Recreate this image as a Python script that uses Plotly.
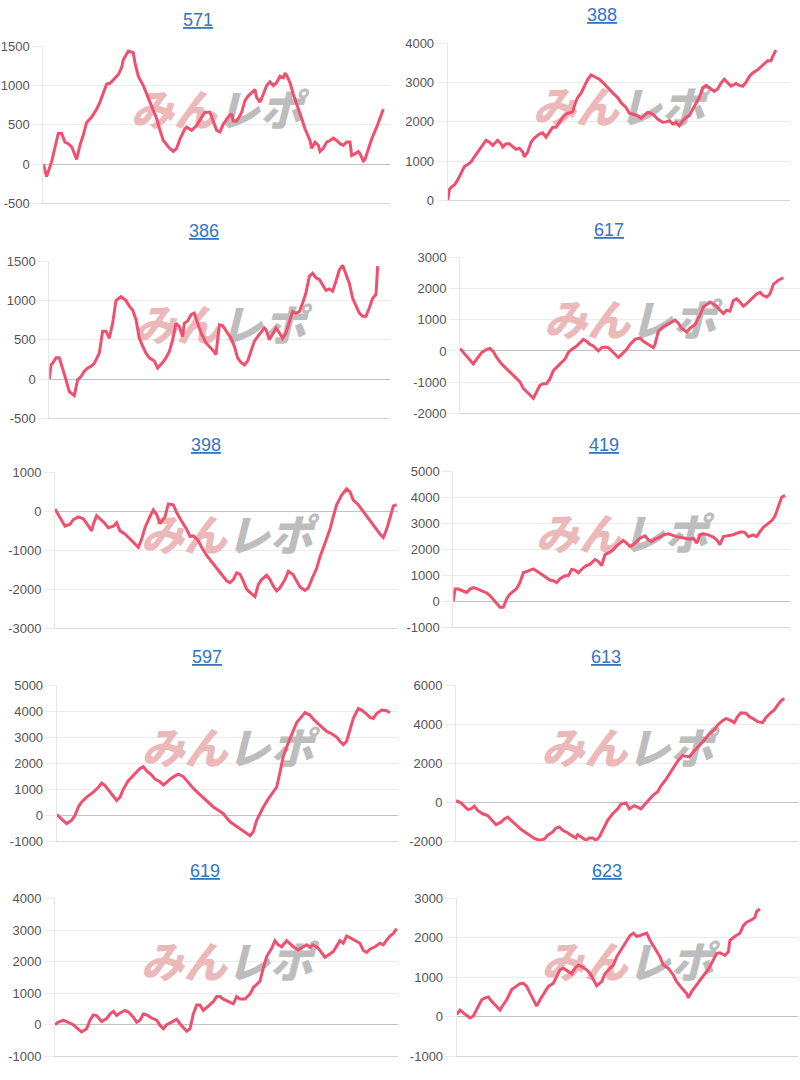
import plotly.graph_objects as go

# ---------------- data ----------------
TITLES = ["571", "388", "386", "617", "398", "419", "597", "613", "619", "623"]

X_571 = [0, 2, 5, 9, 11, 13, 15, 17, 20, 22, 24, 26, 29, 32, 34, 36, 38, 40, 43, 45,
         47, 48, 51, 54, 55, 57, 60, 62, 65, 68, 70, 72, 75, 78, 80, 82, 85, 86, 89, 92,
         95, 97, 100, 102, 104, 106, 108, 111, 113, 114, 116, 118, 119, 121, 123, 126, 127, 128, 130, 132,
         134, 136, 138, 140, 142, 144, 145, 146, 148, 150, 153, 155, 157, 160, 161, 163, 165, 166, 168, 170,
         172, 174, 176, 178, 180, 182, 184, 185, 187, 189, 190, 192, 193, 195, 197, 200, 204]
Y_571 = [0, -160, 30, 390, 390, 280, 260, 220, 60, 240, 370, 530, 600, 700, 790, 900, 1020, 1030, 1100, 1140,
         1230, 1330, 1440, 1420, 1290, 1120, 1000, 890, 740, 580, 430, 300, 220, 160, 200, 320, 450, 470, 430, 490,
         600, 660, 660, 550, 430, 410, 510, 600, 640, 550, 550, 620, 660, 810, 870, 930, 950, 850, 790, 890,
         1000, 1050, 1000, 1040, 1120, 1100, 1160, 1130, 1040, 890, 720, 580, 450, 300, 200, 280, 240, 160, 200, 280,
         300, 330, 300, 260, 240, 280, 280, 110, 130, 160, 130, 40, 60, 200, 320, 470, 700]

X_388 = [0, 1, 2, 4, 6, 8, 10, 12, 14, 16, 18, 20, 23, 25, 27, 30, 32, 33, 35, 37,
         39, 41, 43, 45, 46, 48, 50, 52, 55, 57, 59, 61, 63, 65, 67, 69, 71, 73, 75, 77,
         78, 80, 82, 84, 86, 88, 91, 93, 96, 99, 102, 104, 107, 109, 111, 114, 116, 118, 120, 122,
         124, 126, 129, 131, 133, 135, 137, 139, 141, 143, 145, 147, 149, 151, 153, 155, 157, 160, 162, 164,
         166, 168, 170, 173, 175, 177, 179, 181, 183, 186, 188, 190, 192, 194, 195, 197]
Y_388 = [0, 270, 330, 390, 520, 690, 860, 910, 980, 1110, 1230, 1360, 1530, 1480, 1400, 1530, 1440, 1360, 1440, 1440,
         1360, 1300, 1330, 1230, 1110, 1230, 1480, 1590, 1690, 1720, 1610, 1750, 1860, 1860, 1990, 2110, 2200, 2240, 2260, 2530,
         2620, 2730, 2910, 3080, 3200, 3160, 3090, 3010, 2870, 2740, 2620, 2490, 2370, 2220, 2200, 2160, 2090, 2160, 2240, 2220,
         2160, 2070, 1990, 2000, 2030, 1950, 1990, 1900, 2030, 2110, 2160, 2320, 2490, 2620, 2870, 2930, 2870, 2780, 2840, 2990,
         3090, 3010, 2910, 2980, 2930, 2910, 3010, 3160, 3250, 3330, 3400, 3480, 3560, 3560, 3670, 3830]

X_386 = [0, 1, 2, 4, 6, 8, 10, 12, 15, 17, 19, 21, 23, 25, 27, 30, 32, 34, 36, 38,
         40, 43, 46, 48, 50, 52, 54, 56, 58, 60, 63, 65, 66, 68, 70, 72, 74, 76, 78, 80,
         81, 83, 85, 87, 89, 91, 94, 96, 98, 100, 102, 104, 106, 109, 111, 113, 115, 117, 119, 121,
         123, 125, 127, 129, 130, 132, 134, 136, 138, 140, 142, 144, 146, 148, 150, 152, 154, 156, 158, 160,
         162, 164, 166, 168, 170, 172, 174, 176, 178, 180, 182, 184, 186, 188, 190, 192, 194, 196, 197]
Y_386 = [0, 180, 200, 270, 270, 140, -10, -160, -210, -10, 30, 100, 140, 160, 200, 330, 610, 610, 520, 710,
         1000, 1050, 1000, 930, 880, 760, 520, 420, 330, 270, 230, 140, 160, 210, 270, 350, 500, 710, 670, 540,
         710, 740, 820, 840, 710, 590, 460, 420, 370, 310, 690, 680, 610, 520, 420, 270, 210, 180, 230, 350,
         480, 540, 590, 650, 630, 500, 570, 650, 590, 520, 590, 740, 860, 840, 860, 970, 1100, 1310, 1350, 1290,
         1270, 1200, 1130, 1150, 1120, 1250, 1390, 1450, 1330, 1220, 1030, 930, 840, 800, 800, 910, 1030, 1080, 1440]

X_617 = [0, 2, 5, 8, 10, 13, 16, 18, 20, 22, 25, 28, 30, 33, 36, 38, 40, 42, 44, 46,
         48, 50, 52, 54, 56, 59, 61, 63, 65, 67, 70, 72, 74, 76, 78, 80, 83, 85, 87, 89,
         92, 95, 97, 100, 102, 105, 108, 110, 113, 116, 117, 119, 122, 125, 127, 129, 131, 133, 136, 138,
         141, 144, 146, 148, 150, 153, 156, 158, 160, 162, 164, 166, 168, 170, 172, 175, 178, 180, 182, 184,
         186, 188, 191, 194]
Y_617 = [80, -50, -210, -420, -260, -50, 50, 80, -20, -210, -420, -580, -680, -840, -990, -1200, -1310, -1410, -1520, -1310,
         -1100, -1050, -1050, -890, -630, -470, -370, -260, -50, 50, 160, 260, 370, 310, 210, 160, 0, 110, 130, 110,
         -50, -210, -110, 50, 210, 370, 420, 310, 210, 110, 210, 630, 780, 860, 940, 990, 890, 730, 610, 730,
         840, 1150, 1410, 1480, 1570, 1480, 1310, 1200, 1310, 1280, 1620, 1670, 1570, 1440, 1520, 1690, 1830, 1880, 1780, 1730,
         1830, 2140, 2270, 2350]

X_398 = [0, 3, 6, 9, 11, 14, 17, 19, 22, 23, 25, 27, 30, 32, 35, 37, 39, 42, 45, 48,
         50, 52, 54, 57, 59, 61, 63, 66, 68, 71, 73, 76, 79, 81, 83, 86, 88, 91, 94, 97,
         100, 103, 105, 107, 109, 111, 113, 115, 117, 120, 122, 124, 127, 129, 131, 133, 135, 138, 140, 143,
         145, 147, 150, 152, 154, 157, 159, 162, 165, 167, 169, 172, 175, 177, 179, 182, 185, 187, 189, 192,
         195, 197, 199, 201, 203, 205]
Y_398 = [60, -170, -380, -330, -210, -140, -190, -310, -500, -330, -110, -190, -310, -420, -380, -290, -500, -580, -710, -830,
         -920, -710, -420, -130, 40, -80, -310, -140, 190, 170, -30, -250, -460, -640, -630, -750, -920, -1130, -1290, -1460,
         -1630, -1780, -1830, -1750, -1580, -1610, -1790, -2000, -2080, -2190, -1880, -1750, -1640, -1750, -1920, -2040, -1960, -1750, -1540, -1630,
         -1790, -1940, -2030, -1960, -1750, -1460, -1170, -790, -460, -130, 170, 420, 580, 500, 290, 170, 0, -140, -250, -420,
         -580, -670, -460, -170, 140, 170]

X_419 = [0, 1, 3, 6, 8, 10, 12, 14, 17, 20, 22, 24, 26, 28, 30, 32, 34, 36, 38, 40,
         42, 45, 48, 50, 52, 55, 58, 60, 62, 64, 67, 69, 71, 73, 75, 78, 80, 82, 85, 87,
         89, 91, 94, 96, 98, 100, 102, 104, 106, 108, 110, 112, 115, 117, 119, 121, 124, 126, 129, 132,
         134, 136, 139, 142, 144, 146, 148, 150, 153, 156, 158, 160, 162, 165, 168, 170, 173, 175, 177, 180,
         182, 184, 186, 189, 191, 193, 195, 197, 199]
Y_419 = [0, 470, 470, 410, 340, 470, 530, 490, 410, 320, 220, 60, -100, -230, -230, 90, 280, 370, 490, 720,
         1100, 1170, 1250, 1170, 1080, 980, 820, 790, 720, 870, 980, 980, 1230, 1200, 1100, 1290, 1380, 1420, 1610, 1540,
         1380, 1800, 1890, 1990, 2140, 2240, 2340, 2240, 2110, 2180, 2300, 2430, 2520, 2370, 2300, 2390, 2470, 2560, 2600, 2520,
         2490, 2470, 2430, 2390, 2430, 2240, 2560, 2600, 2560, 2470, 2370, 2180, 2490, 2520, 2560, 2620, 2680, 2650, 2490, 2560,
         2490, 2680, 2850, 3000, 3100, 3280, 3630, 4010, 4080]

X_597 = [0, 3, 6, 9, 11, 13, 15, 18, 20, 22, 25, 27, 29, 32, 34, 36, 38, 40, 43, 46,
         48, 50, 52, 54, 57, 59, 62, 64, 66, 68, 71, 73, 76, 78, 81, 84, 86, 88, 91, 94,
         97, 100, 102, 104, 107, 110, 112, 114, 116, 118, 120, 122, 124, 127, 130, 132, 134, 136, 139, 142,
         144, 147, 149, 152, 154, 157, 160, 162, 165, 168, 170, 172, 174, 176, 178, 181, 183, 186, 188, 190,
         192, 195, 198, 200]
Y_597 = [30, -150, -320, -190, 0, 320, 510, 700, 790, 890, 1080, 1240, 1140, 890, 700, 570, 700, 1010, 1330, 1520,
         1650, 1800, 1870, 1710, 1550, 1390, 1290, 1170, 1270, 1390, 1520, 1580, 1490, 1330, 1110, 910, 790, 660, 510, 320,
         190, 60, -100, -250, -380, -510, -610, -700, -790, -630, -190, 60, 320, 630, 890, 1080, 1650, 2280, 2790, 3230,
         3570, 3800, 3950, 3860, 3700, 3520, 3360, 3230, 3140, 3010, 2850, 2720, 2850, 3290, 3730, 4110, 4050, 3900, 3770, 3730,
         3920, 4050, 4030, 3950]

X_613 = [0, 3, 5, 7, 9, 11, 13, 16, 19, 21, 24, 27, 29, 31, 33, 36, 39, 42, 45, 47,
         50, 53, 55, 58, 60, 62, 64, 67, 69, 72, 73, 76, 78, 80, 82, 84, 86, 89, 91, 94,
         97, 99, 102, 104, 107, 109, 111, 113, 116, 118, 121, 123, 126, 128, 131, 133, 136, 138, 140, 142,
         145, 147, 150, 152, 155, 157, 160, 162, 165, 167, 169, 171, 174, 176, 179, 181, 184, 186, 189, 191,
         193, 195, 197]
Y_613 = [80, -30, -200, -370, -340, -200, -420, -590, -680, -880, -1150, -1020, -850, -760, -930, -1180, -1390, -1560, -1730, -1860,
         -1950, -1890, -1690, -1520, -1320, -1270, -1440, -1560, -1690, -1830, -1660, -1830, -1950, -1830, -1830, -1950, -1780, -1270, -930, -590,
         -340, -90, -30, -340, -170, -250, -340, -140, 170, 340, 540, 850, 1180, 1440, 1780, 2110, 2400, 2370, 2330, 2540,
         2790, 3010, 3300, 3520, 3720, 3970, 4190, 4310, 4190, 4090, 4400, 4600, 4570, 4400, 4260, 4140, 4090, 4360, 4600, 4740,
         4990, 5210, 5330]

X_619 = [0, 2, 5, 8, 11, 13, 16, 19, 21, 23, 25, 28, 31, 33, 35, 37, 39, 42, 44, 47,
         49, 51, 53, 55, 58, 61, 63, 65, 67, 70, 73, 75, 77, 79, 81, 83, 85, 87, 89, 92,
         95, 97, 99, 101, 104, 107, 109, 111, 114, 117, 119, 121, 123, 125, 127, 130, 132, 134, 136, 139,
         141, 143, 146, 149, 151, 153, 155, 158, 160, 162, 165, 167, 169, 171, 173, 175, 177, 180, 183, 185,
         187, 189, 192, 195, 197, 199, 201, 203, 205]
Y_619 = [0, 80, 140, 80, 0, -100, -230, -130, 140, 310, 290, 100, 190, 340, 420, 290, 370, 450, 400, 240,
         80, 140, 340, 310, 210, 140, -20, -130, 0, 80, 170, 30, -100, -210, -130, 340, 620, 620, 450, 580,
         730, 890, 890, 810, 730, 660, 890, 810, 810, 970, 1170, 1280, 1380, 1800, 2160, 2420, 2660, 2530, 2470, 2660,
         2560, 2470, 2370, 2450, 2530, 2450, 2530, 2420, 2270, 2140, 2240, 2320, 2490, 2660, 2580, 2810, 2760, 2660, 2580, 2350,
         2290, 2390, 2470, 2580, 2530, 2680, 2810, 2890, 3040]

X_623 = [0, 2, 4, 6, 8, 10, 12, 15, 17, 19, 21, 24, 26, 28, 30, 33, 36, 38, 40, 42,
         44, 46, 48, 50, 52, 55, 58, 60, 62, 64, 67, 69, 71, 73, 75, 78, 80, 82, 84, 87,
         89, 92, 94, 96, 99, 102, 104, 106, 108, 110, 112, 114, 116, 119, 122, 124, 127, 130, 132, 135,
         138, 139, 141, 144, 146, 148, 151, 154, 156, 158, 161, 163, 164, 167, 170, 172, 174, 177, 179, 180,
         182]
Y_623 = [60, 170, 100, 30, -30, 20, 180, 430, 480, 500, 390, 270, 170, 310, 430, 690, 770, 840, 850, 770,
         600, 430, 270, 430, 560, 770, 850, 1020, 1190, 1230, 1140, 1090, 1230, 1310, 1270, 1190, 1100, 940, 790, 890,
         1090, 1230, 1310, 1520, 1730, 1920, 2060, 2120, 2040, 2060, 2100, 2120, 1940, 1730, 1520, 1310, 1230, 1060, 890, 730,
         590, 480, 640, 810, 940, 1040, 1200, 1440, 1600, 1620, 1560, 1650, 1940, 2040, 2120, 2310, 2400, 2460, 2520, 2670,
         2730]

SERIES_X = [X_571, X_388, X_386, X_617, X_398, X_419, X_597, X_613, X_619, X_623]
SERIES_Y = [Y_571, Y_388, Y_386, Y_617, Y_398, Y_419, Y_597, Y_613, Y_619, Y_623]

Y_RANGES = [(-500, 1500), (0, 4000), (-500, 1500), (-2000, 3000), (-3000, 1000),
            (-1000, 5000), (-1000, 5000), (-2000, 6000), (-1000, 4000), (-1000, 3000)]
Y_STEPS = [500, 1000, 500, 1000, 1000, 1000, 1000, 2000, 1000, 1000]
X_SPANS = [208, 205.4, 204.4, 204, 206, 202, 205, 205.4, 206, 205]

# ---------------- layout geometry (pixels) ----------------
W, H = 800, 1080
PANELS_PX = [(43.3, 390, 40, 199), (447.7, 790, 37, 196),
             (49.3, 390, 258, 417), (460, 800, 254, 412),
             (55, 398.3, 472, 630), (453.3, 790, 471, 629),
             (56.7, 398.3, 688, 846), (456, 798.3, 688, 846),
             (55, 398.3, 904, 1064), (456.7, 798.3, 904, 1064)]
TITLES_PX = [(198, 13), (602, 8), (204, 227), (609, 226), (206, 444),
             (604, 444), (207, 659), (606, 659), (205, 876), (607, 876)]

LINE_COLOR = "#f0506e"
GRID = "#ebebeb"
WATERMARK = ("<span style='color:#ecb9bb'>みん</span>"
             "<span style='color:#bdbdbd'>レポ</span>")

fig = go.Figure()
layout = dict(width=W, height=H, margin=dict(l=0, r=0, t=0, b=0),
              paper_bgcolor="white", plot_bgcolor="white", showlegend=False,
              annotations=[])

for i in range(10):
    suf = "" if i == 0 else str(i + 1)
    xa, ya = "x" + suf, "y" + suf
    L, R, T, B = PANELS_PX[i]
    y0, y1 = Y_RANGES[i]
    span = X_SPANS[i]

    # watermark (drawn first so the line sits on top)
    fig.add_trace(go.Scatter(
        x=[span / 2], y=[(y0 + y1) / 2 + (y1 - y0) * 10 / (B - T)],
        mode="text", text=[WATERMARK], hoverinfo="skip",
        textfont=dict(size=43, family="Noto Sans CJK JP", weight=900, style="italic"),
        xaxis=xa, yaxis=ya))
    fig.add_trace(go.Scatter(
        x=SERIES_X[i], y=SERIES_Y[i], mode="lines",
        line=dict(color=LINE_COLOR, width=3), xaxis=xa, yaxis=ya))

    tv = list(range(y0, y1 + 1, Y_STEPS[i]))
    layout["xaxis" + suf] = dict(domain=[L / W, R / W], range=[0, span], anchor=ya,
                                 showgrid=False, zeroline=False, showticklabels=False,
                                 showline=True, linecolor="#d6d6d6", linewidth=1, ticks="")
    layout["yaxis" + suf] = dict(domain=[1 - B / H, 1 - T / H], range=[y0, y1], anchor=xa,
                                 tickvals=tv, ticktext=[str(v) for v in tv],
                                 showgrid=True, gridcolor=GRID, gridwidth=1,
                                 zeroline=True, zerolinecolor="#c2c2c2", zerolinewidth=1,
                                 ticks="outside", ticklen=10, tickcolor=GRID,
                                 showline=True, linecolor="#e6e6e6", linewidth=1,
                                 tickfont=dict(family="Arial, Liberation Sans, sans-serif",
                                               size=13, color="#555555"))
    cx, cy = TITLES_PX[i]
    layout["annotations"].append(dict(
        text=TITLES[i], xref="paper", yref="paper", x=cx / W, y=1 - cy / H,
        xanchor="center", yanchor="middle", showarrow=False,
        font=dict(family="Arial, Liberation Sans, sans-serif", size=18,
                  color="#3474c4", lineposition="under")))

fig.update_layout(**layout)
fig.write_html("out.html")
